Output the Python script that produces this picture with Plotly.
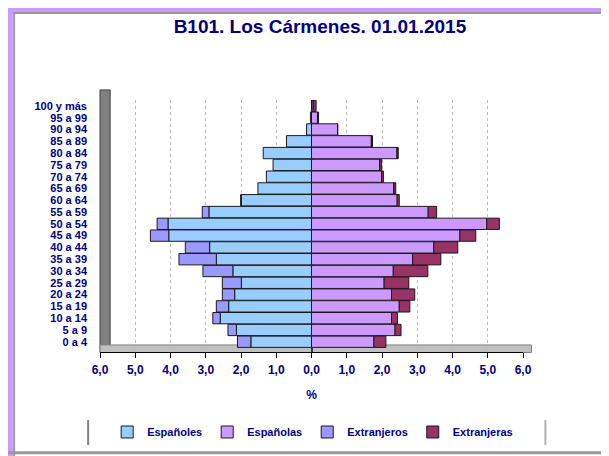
import plotly.graph_objects as go

ages = ["0 a 4", "5 a 9", "10 a 14", "15 a 19", "20 a 24", "25 a 29", "30 a 34",
        "35 a 39", "40 a 44", "45 a 49", "50 a 54", "55 a 59", "60 a 64", "65 a 69",
        "70 a 74", "75 a 79", "80 a 84", "85 a 89", "90 a 94", "95 a 99", "100 y más"]

espanoles = [1.72, 2.13, 2.59, 2.35, 2.18, 1.99, 2.23, 2.70, 2.89, 4.05, 4.07, 2.91,
             1.99, 1.52, 1.28, 1.09, 1.37, 0.71, 0.14, 0.03, 0.0]
extranjeros = [0.38, 0.24, 0.21, 0.35, 0.35, 0.54, 0.85, 1.06, 0.69, 0.52, 0.31, 0.19,
               0.02, 0.0, 0.0, 0.0, 0.0, 0.0, 0.0, 0.0, 0.0]
espanolas = [1.77, 2.37, 2.27, 2.49, 2.27, 2.06, 2.32, 2.87, 3.47, 4.21, 4.97, 3.31,
             2.43, 2.34, 1.99, 1.94, 2.43, 1.70, 0.74, 0.17, 0.05]
extranjeras = [0.34, 0.17, 0.17, 0.30, 0.66, 0.70, 0.98, 0.80, 0.68, 0.45, 0.36, 0.24,
               0.06, 0.05, 0.05, 0.05, 0.03, 0.03, 0.0, 0.03, 0.08]

tick_vals = [-6, -5, -4, -3, -2, -1, 0, 1, 2, 3, 4, 5, 6]
tick_text = ["6,0", "5,0", "4,0", "3,0", "2,0", "1,0", "0,0",
             "1,0", "2,0", "3,0", "4,0", "5,0", "6,0"]

NAVY = "#000080"
FONT = "Arial, Liberation Sans, sans-serif"
line_style = dict(color="#1a1a1a", width=1)

fig = go.Figure()
fig.add_trace(go.Bar(y=ages, x=[-v for v in espanoles], name="Españoles", orientation="h",
                     marker=dict(color="#99CCFF", line=line_style)))
fig.add_trace(go.Bar(y=ages, x=espanolas, name="Españolas", orientation="h",
                     marker=dict(color="#CC99FF", line=line_style)))
fig.add_trace(go.Bar(y=ages, x=[-v for v in extranjeros], name="Extranjeros", orientation="h",
                     marker=dict(color="#9999FF", line=line_style)))
fig.add_trace(go.Bar(y=ages, x=extranjeras, name="Extranjeras", orientation="h",
                     marker=dict(color="#993366", line=line_style)))

shapes = [
    # back wall (left) and floor, imitating the 3D look
    dict(type="rect", xref="paper", yref="paper", x0=0.0, x1=0.024, y0=0.0, y1=1.04,
         fillcolor="#808080", line=dict(color="#404040", width=1), layer="below"),
    dict(type="rect", xref="paper", yref="paper", x0=0.0, x1=1.02, y0=-0.002, y1=0.028,
         fillcolor="#C0C0C0", line=dict(color="#808080", width=1), layer="below"),
    # outer frame
    dict(type="rect", xref="paper", yref="paper", x0=-0.23, x1=-0.206, y0=-0.42, y1=1.40,
         fillcolor="#CC99FF", line=dict(width=0)),
    dict(type="rect", xref="paper", yref="paper", x0=-0.23, x1=1.25, y0=1.349, y1=1.40,
         fillcolor="#CC99FF", line=dict(width=0)),
    dict(type="line", xref="paper", yref="paper", x0=-0.206, x1=1.25, y0=1.345, y1=1.345,
         line=dict(color="#999999", width=2)),
    dict(type="line", xref="paper", yref="paper", x0=-0.203, x1=-0.203, y0=-0.42, y1=1.345,
         line=dict(color="#999999", width=2)),
    dict(type="line", xref="paper", yref="paper", x0=-0.23, x1=1.25, y0=-0.40, y1=-0.40,
         line=dict(color="#999999", width=3)),
    # legend box sides
    dict(type="line", xref="paper", yref="paper", x0=-0.028, x1=-0.028, y0=-0.27, y1=-0.369,
         line=dict(color="#808080", width=2)),
    dict(type="line", xref="paper", yref="paper", x0=1.053, x1=1.053, y0=-0.27, y1=-0.369,
         line=dict(color="#b0b0b0", width=2)),
]

fig.update_layout(
    width=601, height=448,
    margin=dict(l=92, r=86, t=92, b=104),
    paper_bgcolor="white", plot_bgcolor="white",
    barmode="relative", bargap=0.04,
    title=dict(text="<b>B101. Los Cármenes. 01.01.2015</b>", x=0.519, xanchor="center",
               y=0.958, yanchor="middle", font=dict(family=FONT, size=19, color=NAVY)),
    font=dict(family=FONT, color=NAVY),
    xaxis=dict(range=[-6, 6], tickvals=tick_vals, ticktext=tick_text,
               tickfont=dict(family=FONT, size=12, color=NAVY, weight="bold"),
               showgrid=True, gridcolor="#bbbbbb", griddash="dot", gridwidth=1,
               zeroline=True, zerolinecolor="#1f3f5f", zerolinewidth=2,
               showline=True, linecolor="#000000", linewidth=1,
               ticks="outside", ticklen=5, tickcolor="#000000", ticklabelstandoff=2,
               title=dict(text="<b>%</b>", font=dict(family=FONT, size=12, color=NAVY), standoff=14),
               fixedrange=True, automargin=False),
    yaxis=dict(categoryorder="array", categoryarray=ages, range=[-0.87, 20.5],
               tickmode="array", tickvals=ages, ticktext=ages,
               tickfont=dict(family=FONT, size=11, color=NAVY, weight="bold"),
               showgrid=False, zeroline=False, showline=False, ticks="",
               ticklabelstandoff=12, fixedrange=True, automargin=False),
    legend=dict(orientation="h", xref="container", yref="container",
                x=0.165, xanchor="left", y=0.0536, yanchor="middle",
                font=dict(family=FONT, size=11, color=NAVY, weight="bold"),
                itemwidth=30, traceorder="normal"),
    shapes=shapes,
    showlegend=True,
)

fig.write_html("out.html")
